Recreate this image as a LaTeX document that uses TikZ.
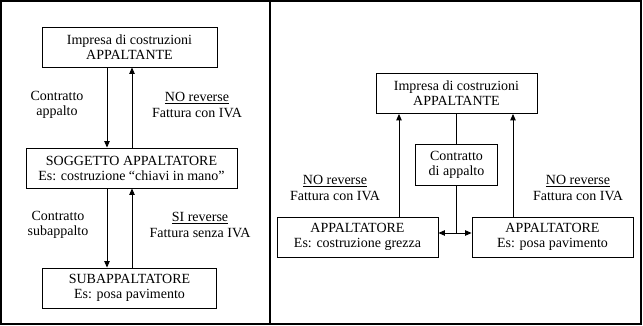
\documentclass[tikz,border=0pt]{standalone}
\usepackage{fontspec}
\setmainfont{Liberation Serif}
\usetikzlibrary{arrows.meta}

\begin{document}
\begin{tikzpicture}[x=1pt,y=-1pt,
  box/.style={draw,line width=.9pt,align=center,inner sep=0pt,
    font=\fontsize{14}{15}\selectfont},
  lbl/.style={align=center,inner sep=0pt,font=\fontsize{14}{15.5}\selectfont},
  arr/.style={line width=.9pt,-{Triangle[length=6.5pt,width=5.5pt]}}]
\useasboundingbox (0,0) rectangle (643,326);

% frame
\draw[line width=1.2pt] (1,1) rectangle (641,324);
\draw[line width=1.2pt] (270,1) -- (270,324);

%% left panel
\node[box,minimum width=175,minimum height=40] (imp1) at (129.5,47) {Impresa di costruzioni\\APPALTANTE};
\node[box,minimum width=211,minimum height=40] (sogg) at (131.5,168) {SOGGETTO APPALTATORE\\Es: costruzione “chiavi in mano”};
\node[box,minimum width=174,minimum height=40] (sub) at (129.5,288) {SUBAPPALTATORE\\Es: posa pavimento};

\draw[arr] ([xshift=-22.5pt]imp1.south) -- ([xshift=-22.5pt]imp1.south |- sogg.north);
\draw[arr] ([xshift=2.5pt]imp1.south |- sogg.north) -- ([xshift=2.5pt]imp1.south);
\draw[arr] ([xshift=-22.5pt]imp1.south |- sogg.south) -- ([xshift=-22.5pt]imp1.south |- sub.north);
\draw[arr] ([xshift=2.5pt]imp1.south |- sub.north) -- ([xshift=2.5pt]imp1.south |- sogg.south);

\node[lbl] (c1) at (57,105) {Contratto\\appalto};
\node[lbl] (f1) at (197,105) {\underline{NO reverse}\\Fattura con IVA};
\node[lbl] (c2) at (58,225) {Contratto\\subappalto};
\node[lbl] (f2) at (200,225) {\underline{SI reverse}\\Fattura senza IVA};

%% right panel
\node[box,minimum width=161,minimum height=40] (imp2) at (456.5,93.5) {Impresa di costruzioni\\APPALTANTE};
\node[box,minimum width=82,minimum height=41] (contr) at (456.5,164.5) {Contratto\\di appalto};
\node[box,minimum width=161,minimum height=40] (app1) at (357.5,237) {APPALTATORE\\Es: costruzione grezza};
\node[box,minimum width=161,minimum height=40] (app2) at (552.5,237) {APPALTATORE\\Es: posa pavimento};
\coordinate (mid) at (456.5,233);

\draw[line width=.9pt] (imp2.south) -- (contr.north);
\draw[line width=.9pt] (contr.south) -- (mid);
\draw[line width=.9pt,{Triangle[length=6.5pt,width=5.5pt]}-{Triangle[length=6.5pt,width=5.5pt]}] (app1.east |- mid) -- (app2.west |- mid);
\draw[arr] ([xshift=41.5pt]app1.north) -- ([xshift=41.5pt]app1.north |- imp2.south);
\draw[arr] ([xshift=-39.5pt]app2.north) -- ([xshift=-39.5pt]app2.north |- imp2.south);

\node[lbl] (f3) at (335,188) {\underline{NO reverse}\\Fattura con IVA};
\node[lbl] (f4) at (578,188) {\underline{NO reverse}\\Fattura con IVA};

\end{tikzpicture}
\end{document}
